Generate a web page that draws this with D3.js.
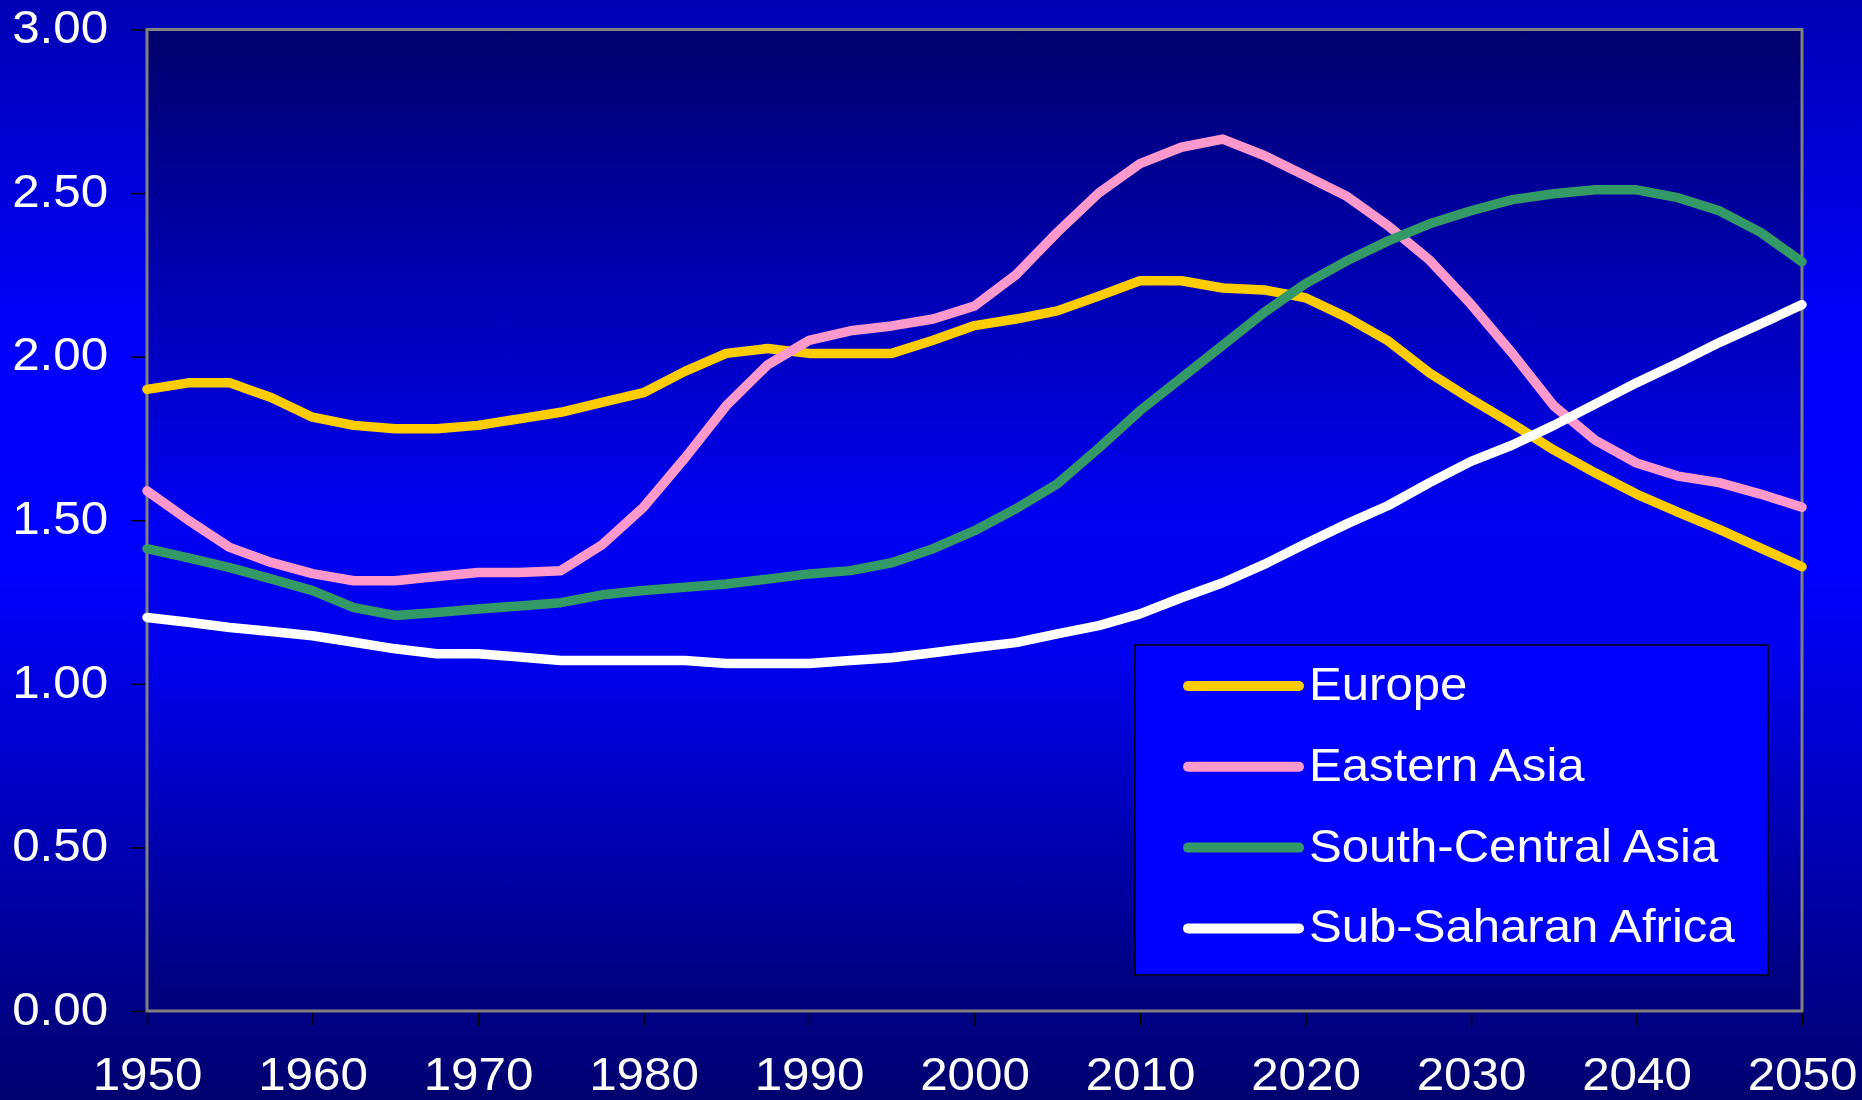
<!DOCTYPE html>
<html>
<head>
<meta charset="utf-8">
<script src="https://cdn.jsdelivr.net/npm/d3@7"></script>
<style>
  body { margin: 0; background: #000080; }
  svg { display: block; }
  text { font-family: "Liberation Sans", Arial, sans-serif; }
</style>
</head>
<body>
<script>
// years are every 2.5 years, 1950 - 2050
var years = d3.range(1950, 2050.1, 2.5);

var seriesNames = ["Europe", "Eastern Asia", "South-Central Asia", "Sub-Saharan Africa"];
var seriesColors = ["#ffcc00", "#ff99cc", "#339966", "#ffffff"];

var europe = [1.90, 1.92, 1.92, 1.875, 1.815, 1.79, 1.78, 1.78, 1.79, 1.81,
  1.83, 1.86, 1.89, 1.955, 2.01, 2.025, 2.01, 2.01, 2.01, 2.05,
  2.095, 2.115, 2.14, 2.185, 2.232, 2.232, 2.21, 2.204, 2.18, 2.12,
  2.048, 1.95, 1.87, 1.795, 1.715, 1.645, 1.58, 1.525, 1.472, 1.415, 1.358];

var easternAsia = [1.59, 1.50, 1.417, 1.371, 1.337, 1.315, 1.315, 1.328, 1.34, 1.34,
  1.346, 1.425, 1.54, 1.69, 1.85, 1.975, 2.05, 2.079, 2.094, 2.115,
  2.155, 2.25, 2.38, 2.50, 2.59, 2.64, 2.665, 2.615, 2.553, 2.49,
  2.40, 2.295, 2.16, 2.01, 1.85, 1.745, 1.675, 1.635, 1.615, 1.58, 1.54];

var southCentralAsia = [1.413, 1.385, 1.355, 1.321, 1.285, 1.233, 1.209, 1.218, 1.229, 1.238,
  1.248, 1.272, 1.285, 1.295, 1.305, 1.32, 1.336, 1.346, 1.37, 1.413,
  1.468, 1.535, 1.611, 1.72, 1.835, 1.935, 2.035, 2.135, 2.223, 2.293,
  2.354, 2.406, 2.446, 2.48, 2.498, 2.51, 2.51, 2.486, 2.446, 2.38, 2.29];

var subSaharanAfrica = [1.203, 1.188, 1.172, 1.16, 1.147, 1.127, 1.107, 1.092, 1.092, 1.082,
  1.071, 1.071, 1.071, 1.071, 1.062, 1.062, 1.062, 1.071, 1.08, 1.095,
  1.111, 1.126, 1.153, 1.178, 1.214, 1.263, 1.309, 1.365, 1.428, 1.489,
  1.545, 1.615, 1.68, 1.73, 1.79, 1.855, 1.92, 1.98, 2.043, 2.10, 2.159];

var xTicks = [1950, 1960, 1970, 1980, 1990, 2000, 2010, 2020, 2030, 2040, 2050];
var yTicks = [0, 0.5, 1, 1.5, 2, 2.5, 3];

var seriesValues = [europe, easternAsia, southCentralAsia, subSaharanAfrica];

// size and margins
var W = 1862, H = 1100;
var margin = {top: 29.5, right: 60, bottom: 89, left: 147};
var width = W - margin.left - margin.right,
    height = H - margin.top - margin.bottom;

var x = d3.scaleLinear().domain([1950, 2050]).range([0, width]);
var y = d3.scaleLinear().domain([0, 3]).range([height, 0]);

var svg = d3.select("body").append("svg")
    .attr("width", W)
    .attr("height", H);

var defs = svg.append("defs");

var bg = defs.append("linearGradient").attr("id", "bgGrad")
    .attr("x1", 0).attr("y1", 0).attr("x2", 0).attr("y2", 1);
bg.append("stop").attr("offset", "0%").attr("stop-color", "#0000b4");
bg.append("stop").attr("offset", "30%").attr("stop-color", "#0000fa");
bg.append("stop").attr("offset", "52%").attr("stop-color", "#0000ff");
bg.append("stop").attr("offset", "100%").attr("stop-color", "#00006e");

var pg = defs.append("linearGradient").attr("id", "plotGrad")
    .attr("x1", 0).attr("y1", 0).attr("x2", 0).attr("y2", 1);
pg.append("stop").attr("offset", "0%").attr("stop-color", "#00006c");
pg.append("stop").attr("offset", "50%").attr("stop-color", "#0000f2");
pg.append("stop").attr("offset", "64%").attr("stop-color", "#0000ee");
pg.append("stop").attr("offset", "100%").attr("stop-color", "#000078");

svg.append("rect")
    .attr("width", W).attr("height", H)
    .attr("fill", "url(#bgGrad)");

var main = svg.append("g")
    .attr("transform", "translate(" + margin.left + "," + margin.top + ")");

main.append("rect")
    .attr("width", width).attr("height", height)
    .attr("fill", "url(#plotGrad)");

// axes
var xAxis = d3.axisBottom(x)
    .tickValues(xTicks)
    .tickFormat(d3.format("d"))
    .tickSize(15)
    .tickPadding(31);

var yAxis = d3.axisLeft(y)
    .tickValues(yTicks)
    .tickFormat(d3.format(".2f"))
    .tickSize(16)
    .tickPadding(21);

var gx = main.append("g")
    .attr("transform", "translate(0," + height + ")")
    .call(xAxis);

var gy = main.append("g").call(yAxis);

// the original text is a bit wider than Liberation Sans, so stretch it a little
[gx, gy].forEach(function(g) {
  g.select(".domain").remove();
  g.selectAll(".tick line").attr("stroke", "#000").attr("stroke-width", 1.5);
  g.selectAll(".tick text")
    .attr("fill", "#fff")
    .attr("transform", "scale(1.05,1)")
    .style("font-size", "47px")
    .style("font-family", "'Liberation Sans', Arial, sans-serif");
});
gy.selectAll(".tick text").attr("dy", "0.28em");

// plot frame
main.append("rect")
    .attr("width", width).attr("height", height)
    .attr("fill", "none")
    .attr("stroke", "#808080")
    .attr("stroke-width", 3);

// lines
var line = d3.line()
    .x(function(d) { return x(d[0]); })
    .y(function(d) { return y(d[1]); });

seriesValues.forEach(function(vals, i) {
  var pts = years.map(function(yr, j) { return [yr, vals[j]]; });
  main.append("path")
      .datum(pts)
      .attr("d", line)
      .attr("fill", "none")
      .attr("stroke", seriesColors[i])
      .attr("stroke-width", 9.5)
      .attr("stroke-linejoin", "round")
      .attr("stroke-linecap", "round");
});

// legend
var legend = svg.append("g").attr("transform", "translate(1135,645)");
legend.append("rect")
    .attr("width", 633).attr("height", 330)
    .attr("fill", "#0000ff")
    .attr("stroke", "#000")
    .attr("stroke-width", 1.5);

var rows = legend.selectAll(".row")
    .data(seriesNames)
    .enter().append("g")
    .attr("transform", function(d, i) { return "translate(0," + (41 + i * 80.8) + ")"; });

rows.append("line")
    .attr("x1", 53).attr("x2", 164)
    .attr("stroke", function(d, i) { return seriesColors[i]; })
    .attr("stroke-width", 10)
    .attr("stroke-linecap", "round");

rows.append("text")
    .attr("transform", "translate(174,14) scale(1.045,1)")
    .attr("fill", "#fff")
    .style("font-size", "47px")
    .text(function(d) { return d; });
</script>
</body>
</html>
